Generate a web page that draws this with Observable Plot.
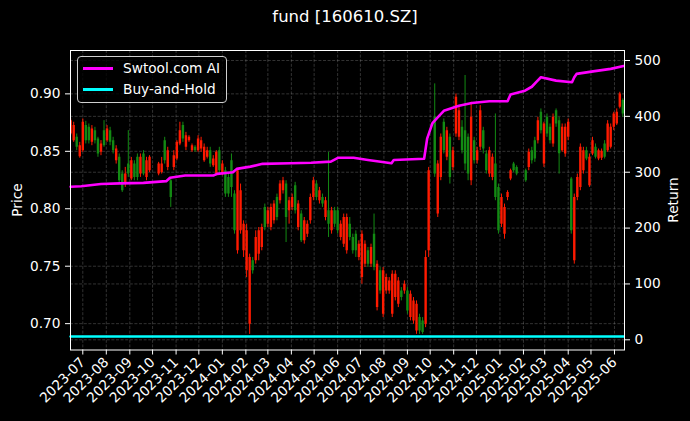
<!DOCTYPE html>
<html>
<head>
<meta charset="utf-8">
<script src="https://cdn.jsdelivr.net/npm/d3@7"></script>
<script src="https://cdn.jsdelivr.net/npm/@observablehq/plot@0.6"></script>
<style>
html,body{margin:0;padding:0;background:#000;}
#wrap{position:relative;width:690px;height:421px;background:#000;font-family:"DejaVu Sans",sans-serif;color:#fff;overflow:hidden;}
#title{position:absolute;left:0;top:7px;width:690px;text-align:center;font-size:16.5px;line-height:20px;}
#legend{position:absolute;left:77px;top:56px;width:150px;height:47px;border:1px solid #cfcfcf;border-radius:4px;background:rgba(0,0,0,0.8);box-sizing:border-box;font-size:13.7px;}
.sw{position:absolute;left:5px;width:30px;height:2.6px;}
.lt{position:absolute;left:45px;line-height:16px;white-space:nowrap;}
.ylab{position:absolute;font-size:13.7px;line-height:16px;white-space:nowrap;transform:translate(-50%,-50%) rotate(-90deg);}
#chart{position:absolute;left:0;top:0;}
</style>
</head>
<body>
<div id="wrap">
  <div id="chart"></div>
  <div id="title">fund [160610.SZ]</div>
  <div id="legend">
    <div class="sw" style="top:10px;background:#ff00ff"></div><div class="lt" style="top:3px">Swtool.com AI</div>
    <div class="sw" style="top:31px;background:#00ffff"></div><div class="lt" style="top:24px">Buy-and-Hold</div>
  </div>
  <div class="ylab" style="left:17px;top:200px">Price</div>
  <div class="ylab" style="left:673px;top:200px">Return</div>
</div>
<script>
// ---- candle data (date, open, high, low, close) ----
const candleDates = [
"2023-06-15","2023-06-19","2023-06-23","2023-06-27","2023-07-01","2023-07-05","2023-07-09","2023-07-13","2023-07-17","2023-07-21",
"2023-07-25","2023-07-29","2023-08-02","2023-08-06","2023-08-10","2023-08-14","2023-08-18","2023-08-22","2023-08-26","2023-08-30",
"2023-09-03","2023-09-07","2023-09-11","2023-09-15","2023-09-19","2023-09-23","2023-09-27","2023-10-09","2023-10-13","2023-10-17",
"2023-10-21","2023-10-25","2023-10-29","2023-11-02","2023-11-06","2023-11-10","2023-11-14","2023-11-18","2023-11-22","2023-11-26",
"2023-11-30","2023-12-04","2023-12-08","2023-12-12","2023-12-16","2023-12-20","2023-12-24","2023-12-28","2024-01-01","2024-01-05",
"2024-01-09","2024-01-13","2024-01-17","2024-01-21","2024-01-25","2024-01-29","2024-02-02","2024-02-06","2024-02-10","2024-02-14",
"2024-02-18","2024-02-22","2024-02-26","2024-03-01","2024-03-05","2024-03-09","2024-03-13","2024-03-17","2024-03-21","2024-03-25",
"2024-03-29","2024-04-02","2024-04-06","2024-04-10","2024-04-14","2024-04-18","2024-04-22","2024-04-26","2024-04-30","2024-05-04",
"2024-05-08","2024-05-12","2024-05-16","2024-05-20","2024-05-24","2024-05-28","2024-06-01","2024-06-05","2024-06-09","2024-06-13",
"2024-06-17","2024-06-21","2024-06-25","2024-06-29","2024-07-03","2024-07-07","2024-07-11","2024-07-15","2024-07-19","2024-07-23",
"2024-07-27","2024-07-31","2024-08-04","2024-08-08","2024-08-12","2024-08-16","2024-08-20","2024-08-24","2024-08-28","2024-09-01",
"2024-09-05","2024-09-09","2024-09-13","2024-09-17","2024-09-21","2024-09-25","2024-09-29","2024-10-07","2024-10-11","2024-10-15",
"2024-10-19","2024-10-23","2024-10-27","2024-10-31","2024-11-04","2024-11-08","2024-11-12","2024-11-16","2024-11-20","2024-11-24",
"2024-11-28","2024-12-02","2024-12-06","2024-12-10","2024-12-14","2024-12-18","2024-12-22","2024-12-26","2024-12-30","2025-01-03",
"2025-01-07","2025-01-11","2025-01-15","2025-01-19","2025-01-23","2025-02-04","2025-02-08","2025-02-12","2025-02-16","2025-02-20",
"2025-02-24","2025-02-28","2025-03-04","2025-03-08","2025-03-12","2025-03-16","2025-03-20","2025-03-24","2025-03-28","2025-04-01",
"2025-04-05","2025-04-09","2025-04-13","2025-04-17","2025-04-21","2025-04-25","2025-04-29","2025-05-03","2025-05-07","2025-05-11",
"2025-05-15","2025-05-19","2025-05-23","2025-05-27","2025-05-31","2025-06-04","2025-06-08","2025-06-12"
];
const opens = [
.8651,.8593,.8622,.8453,.8506,.8724,.8709,.8578,.8680,.8607,
.8491,.8680,.8593,.8680,.8593,.8418,.8448,.8302,.8215,.8389,
.8258,.8389,.8448,.8302,.8477,.8273,.8331,.8302,.8316,.8593,
.8360,.8244,.8360,.8433,.8564,.8724,.8535,.8593,.8506,.8535,
.8506,.8520,.8418,.8448,.8506,.8374,.8302,.8506,.8302,.8331,
.8273,.8418,.8128,.7634,.7808,.7634,.7460,.6995,.7547,.7547,
.7605,.7663,.8012,.7866,.7837,.7895,.8099,.8070,.8157,.8215,
.7983,.8012,.8201,.7837,.7954,.7721,.7779,.7895,.8099,.8215,
.8070,.8099,.7924,.7983,.7808,.7983,.7983,.7750,.7692,.7634,
.7866,.7750,.7779,.7576,.7401,.7518,.7634,.7518,.7779,.7140,
.7460,.7082,.7285,.7285,.7082,.7227,.7169,.7285,.7285,.7285,
.7053,.7024,.6936,.7053,.7024,.6995,.7634,.8796,.7954,.8273,
.8753,.8448,.8622,.8360,.8651,.8622,.8709,.8680,.8622,.8244,
.8593,.8418,.8535,.8680,.8477,.8302,.8273,.8389,.8186,.7866,
.7779,.8099,.8258,.8389,.8360,.8331,.8360,.8506,.8593,.8593,
.8840,.8389,.8796,.8709,.8564,.8854,.8767,.8506,.8477,.8622,
.8258,.7547,.8099,.8186,.8331,.8506,.8201,.8477,.8535,.8433,
.8440,.8564,.8506,.8535,.8709,.8738,.8883,.8942
];
const highs = [
.8782,.8753,.8651,.8578,.8782,.8761,.8738,.8724,.8709,.8622,
.8593,.8767,.8724,.8709,.8622,.8549,.8477,.8331,.8360,.8680,
.8447,.8418,.8477,.8477,.8506,.8448,.8462,.8404,.8447,.8622,
.8535,.8273,.8506,.8593,.8753,.8753,.8665,.8636,.8564,.8549,
.8636,.8622,.8564,.8535,.8535,.8462,.8506,.8535,.8418,.8360,
.8302,.8477,.8157,.8345,.8215,.7895,.7866,.7605,.7576,.7808,
.7837,.7866,.8041,.8012,.8041,.8070,.8128,.8244,.8273,.8244,
.8099,.8128,.8230,.8070,.7983,.7924,.7895,.8128,.8273,.8244,
.8186,.8128,.8099,.8491,.8012,.8012,.8012,.7895,.7954,.7954,
.7924,.7779,.7808,.7721,.7808,.7721,.7663,.7692,.7954,.7547,
.7489,.7489,.7431,.7401,.7460,.7460,.7401,.7314,.7372,.7314,
.7285,.7227,.7198,.7082,.7053,.7634,.8360,.9087,.8418,.8651,
.8782,.8709,.8651,.8535,.8999,.8883,.8767,.9160,.8651,.8927,
.8622,.8535,.8898,.8709,.8506,.8535,.8477,.8825,.8215,.8128,
.8041,.8157,.8345,.8404,.8374,.8345,.8520,.8535,.8622,.8796,
.8869,.8753,.8825,.8738,.8825,.8869,.8796,.8738,.8738,.8782,
.8273,.8128,.8302,.8564,.8535,.8535,.8477,.8622,.8564,.8520,
.8520,.8593,.8767,.8738,.8840,.8869,.9014,.8956
];
const lows = [
.8636,.8578,.8506,.8440,.8491,.8564,.8564,.8549,.8564,.8448,
.8462,.8535,.8578,.8549,.8477,.8389,.8215,.8142,.8186,.8273,
.8244,.8244,.8244,.8273,.8287,.8244,.8316,.8287,.8302,.8389,
.8331,.8012,.8331,.8418,.8549,.8578,.8506,.8578,.8491,.8491,
.8491,.8491,.8404,.8433,.8360,.8360,.8287,.8302,.8287,.8099,
.8099,.8099,.7779,.7605,.7779,.7576,.7401,.6907,.7431,.7518,
.7547,.7634,.7808,.7837,.7808,.7866,.7895,.8041,.8128,.7706,
.7866,.7983,.7954,.7808,.7706,.7692,.7750,.7866,.8070,.8070,
.8041,.8012,.7895,.7750,.7779,.7837,.7779,.7721,.7663,.7605,
.7721,.7605,.7576,.7547,.7343,.7489,.7489,.7489,.7460,.7111,
.7256,.7053,.7256,.7256,.7053,.7198,.7140,.7198,.7256,.7082,
.7024,.6995,.6907,.6907,.6907,.6965,.7576,.8273,.7924,.8244,
.8477,.8418,.8215,.8331,.8622,.8593,.8477,.8331,.8244,.8201,
.8389,.8389,.8506,.8477,.8302,.8273,.8244,.8070,.7779,.7837,
.7735,.8070,.8244,.8316,.8287,.8230,.8331,.8389,.8404,.8564,
.8651,.8360,.8622,.8564,.8535,.8709,.8302,.8491,.8448,.8593,
.7779,.7518,.8070,.8157,.8302,.8418,.8186,.8462,.8433,.8418,
.8420,.8433,.8491,.8520,.8680,.8724,.8869,.8796
];
const closes = [
.8767,.8724,.8535,.8549,.8753,.8593,.8593,.8695,.8593,.8477,
.8564,.8549,.8695,.8578,.8506,.8520,.8244,.8157,.8302,.8302,
.8418,.8273,.8273,.8448,.8302,.8418,.8448,.8389,.8389,.8418,
.8506,.8099,.8462,.8578,.8680,.8607,.8636,.8622,.8549,.8506,
.8607,.8593,.8535,.8506,.8389,.8433,.8491,.8331,.8389,.8128,
.8128,.8186,.7808,.8331,.8157,.7866,.7808,.7576,.7460,.7750,
.7808,.7837,.7837,.7983,.8012,.8041,.7924,.8215,.8244,.7924,
.8070,.8099,.7983,.8041,.7721,.7895,.7866,.8099,.8244,.8099,
.8157,.8041,.8070,.7866,.7983,.7866,.7808,.7866,.7924,.7924,
.7750,.7634,.7634,.7692,.7779,.7692,.7518,.7663,.7489,.7518,
.7285,.7460,.7401,.7372,.7431,.7431,.7372,.7227,.7343,.7111,
.7256,.7198,.7169,.6936,.6922,.7576,.8331,.8302,.8389,.8622,
.8506,.8680,.8273,.8506,.8970,.8854,.8506,.8389,.8302,.8796,
.8418,.8506,.8854,.8520,.8331,.8506,.8448,.8099,.7808,.8099,
.8012,.8142,.8331,.8331,.8302,.8244,.8491,.8418,.8433,.8767,
.8680,.8738,.8651,.8593,.8796,.8738,.8478,.8709,.8709,.8753,
.7808,.8099,.8273,.8535,.8506,.8433,.8448,.8593,.8448,.8506,
.8500,.8448,.8738,.8709,.8825,.8840,.8999,.8825
];

// ---- strategy return (Swtool.com AI) ----
const stratDates = [
"2023-06-15","2023-06-29","2023-07-25","2023-08-19","2023-09-19","2023-10-19","2023-10-24","2023-11-13","2023-12-20","2023-12-25",
"2024-01-15","2024-01-20","2024-02-07","2024-02-23","2024-03-31","2024-04-27","2024-05-23","2024-06-02","2024-06-22","2024-07-11",
"2024-08-11","2024-08-14","2024-09-23","2024-09-27","2024-10-04","2024-10-10","2024-10-19","2024-11-08","2024-11-25","2024-12-18",
"2025-01-11","2025-01-15","2025-02-03","2025-02-12","2025-02-19","2025-02-24","2025-03-16","2025-04-06","2025-04-09","2025-04-12",
"2025-05-06","2025-05-27","2025-06-13"
];
const stratValues = [
274,275,279,280,281,284,290,294,294,297,
300,306,310,315,316,317,319,326,326,322,
316,322,324,360,388,397,410,419,424,427,
427,439,446,453,463,470,464,461,470,476,
481,485,490
];

// ---- buy-and-hold return ----
const bhDates = ["2023-06-15","2024-06-15","2025-06-13"];
const bhValues = [6, 6, 6];

// ---- ticks ----
const monthLabels = ["2023-07","2023-08","2023-09","2023-10","2023-11","2023-12",
"2024-01","2024-02","2024-03","2024-04","2024-05","2024-06","2024-07","2024-08","2024-09","2024-10","2024-11","2024-12",
"2025-01","2025-02","2025-03","2025-04","2025-05","2025-06"];
const priceTicks = [0.70, 0.75, 0.80, 0.85, 0.90];
const returnTicks = [0, 100, 200, 300, 400, 500];

// ---- build ----
const parse = d3.utcParse("%Y-%m-%d");
const candles = candleDates.map((d, i) => ({date: parse(d), o: opens[i], h: highs[i], l: lows[i], c: closes[i]}));
const strat = stratDates.map((d, i) => ({date: parse(d), r: stratValues[i]}));
const bh = bhDates.map((d, i) => ({date: parse(d), r: bhValues[i]}));
const months = monthLabels.map(m => parse(m + "-01"));

const P_BOT = 0.67707, P_TOP = 0.93775;
const R_BOT = -18.26, R_TOP = 517.9;
const r2p = d3.scaleLinear([R_BOT, R_TOP], [P_BOT, P_TOP]);
const colorOf = d => d.c >= d.o ? "#ff1a00" : "#138a13";

const gridStyle = {stroke: "#9a9a9a", strokeOpacity: 0.55, strokeWidth: 0.6, strokeDasharray: "3,1.6"};

const chart = Plot.plot({
  width: 690,
  height: 421,
  marginTop: 50,
  marginBottom: 71.5,
  marginLeft: 70,
  marginRight: 66,
  style: {background: "#000", color: "#fff", fontFamily: "DejaVu Sans, sans-serif", fontSize: "13.7px"},
  x: {type: "utc", domain: [new Date(Date.UTC(2023, 5, 14, 19)), new Date(Date.UTC(2025, 5, 14, 5))]},
  y: {domain: [P_BOT, P_TOP]},
  color: {type: "identity"},
  marks: [
    Plot.gridX(months, gridStyle),
    Plot.gridY(priceTicks, gridStyle),
    Plot.gridY(returnTicks.map(r2p), gridStyle),
    Plot.ruleX(candles, {x: "date", y1: "l", y2: "h", stroke: colorOf, strokeWidth: 1, clip: true}),
    Plot.ruleX(candles, {x: "date", y1: "o", y2: "c", stroke: colorOf, strokeWidth: 2.4, clip: true}),
    Plot.line(bh, {x: "date", y: d => r2p(d.r), stroke: "#00ffff", strokeWidth: 2.6}),
    Plot.line(strat, {x: "date", y: d => r2p(d.r), stroke: "#ff00ff", strokeWidth: 2.6}),
    Plot.frame({stroke: "#fff", strokeWidth: 1}),
    Plot.axisX(months, {tickFormat: d3.utcFormat("%Y-%m"), tickRotate: -45, tickSize: 5, tickPadding: 5, label: null}),
    Plot.axisY(priceTicks, {anchor: "left", tickFormat: d => d.toFixed(2), tickSize: 5, tickPadding: 5, label: null}),
    Plot.axisY(returnTicks.map(r2p), {anchor: "right", tickFormat: d => String(Math.round(r2p.invert(d))), tickSize: 5, tickPadding: 5, label: null})
  ]
});
document.getElementById("chart").appendChild(chart);
</script>
</body>
</html>
